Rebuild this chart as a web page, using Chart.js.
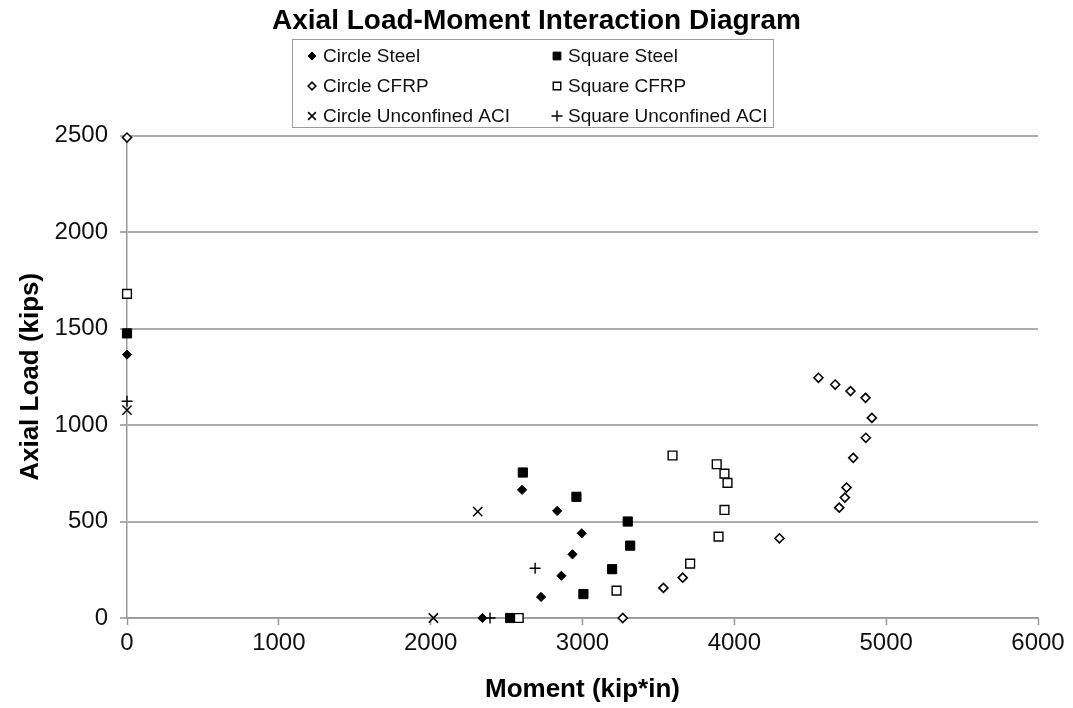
<!DOCTYPE html>
<html>
<head>
<meta charset="utf-8">
<title>Axial Load-Moment Interaction Diagram</title>
<script src="https://cdn.jsdelivr.net/npm/chart.js@4/dist/chart.umd.min.js"></script>
<style>
  html, body { margin: 0; padding: 0; background: #fff; }
  #wrap { width: 1073px; height: 708px; position: relative; }
</style>
</head>
<body>
<div id="wrap"><canvas id="pmChart" width="1073" height="708"></canvas></div>
<script>
// values: moment (kip*in) and axial load (kips)
var circleSteelM = [0, 2341, 2727, 2861, 2934, 2995, 2833, 2602];
var circleSteelP = [1365, 0, 109, 219, 330, 439, 555, 664];

var squareSteelM = [0, 2523, 3006, 3195, 3314, 3298, 2960, 2607];
var squareSteelP = [1475, 0, 124, 253, 375, 500, 628, 754];

var circleCfrpM = [0, 3265, 3533, 3660, 4297, 4691, 4728, 4739, 4783, 4866, 4906, 4864, 4765, 4664, 4554];
var circleCfrpP = [2490, 0, 156, 209, 413, 572, 624, 676, 830, 934, 1037, 1141, 1176, 1210, 1245];

var squareCfrpM = [0, 2580, 3224, 3709, 3896, 3935, 3955, 3935, 3884, 3593];
var squareCfrpP = [1680, 0, 142, 282, 422, 560, 700, 748, 797, 842];

var circleAciM = [0, 2018, 2310];
var circleAciP = [1077, 0, 551];

var squareAciM = [0, 2391, 2688];
var squareAciP = [1123, 0, 258];

var seriesNames = ['Circle Steel', 'Square Steel', 'Circle CFRP', 'Square CFRP', 'Circle Unconfined ACI', 'Square Unconfined ACI'];
var xTicks = [0, 1000, 2000, 3000, 4000, 5000, 6000];
var yTicks = [0, 500, 1000, 1500, 2000, 2500];

var FONT = "'Liberation Sans', Arial, sans-serif";

function pts(xs, ys) {
  return xs.map(function (x, i) { return { x: x, y: ys[i] }; });
}

function ds(label, xs, ys, style, radius, fill, bw, legR) {
  return {
    label: label,
    data: pts(xs, ys),
    showLine: false,
    pointStyle: style,
    pointRadius: radius,
    pointHoverRadius: radius,
    pointBackgroundColor: fill,
    pointBorderColor: '#000',
    pointBorderWidth: bw,
    legendRadius: legR,
    clip: false
  };
}

// legend: two columns, three rows, inside a framed box
var boxLegend = {
  id: 'boxLegend',
  afterDraw: function (chart) {
    var ctx = chart.ctx;
    var left = 292, top = 39, right = 773, bottom = 127;
    ctx.save();
    ctx.strokeStyle = '#9a9a9a';
    ctx.lineWidth = 1;
    ctx.strokeRect(left + 0.5, top + 0.5, right - left, bottom - top);
    ctx.font = '19px ' + FONT;
    ctx.textBaseline = 'middle';
    ctx.textAlign = 'left';
    chart.data.datasets.forEach(function (d, i) {
      var col = i % 2, row = Math.floor(i / 2);
      var mx = col ? 557 : 312;
      var y = 56 + row * 30;
      ctx.fillStyle = d.pointBackgroundColor;
      ctx.strokeStyle = '#000';
      ctx.lineWidth = d.pointBorderWidth;
      Chart.helpers.drawPoint(ctx, {
        pointStyle: d.pointStyle, rotation: 0,
        radius: d.legendRadius, borderWidth: d.pointBorderWidth
      }, mx, y);
      ctx.fillStyle = '#111';
      ctx.fillText(d.label, mx + 11, y + 1);
    });
    ctx.restore();
  }
};

function plainTick(v) { return String(v); }

var ctx = document.getElementById('pmChart').getContext('2d');
var chart = new Chart(ctx, {
  type: 'scatter',
  data: {
    datasets: [
      ds(seriesNames[0], circleSteelM, circleSteelP, 'rectRot', 4.6, '#000', 1, 4),
      ds(seriesNames[1], squareSteelM, squareSteelP, 'rect', 6.5, '#000', 1, 5.5),
      ds(seriesNames[2], circleCfrpM, circleCfrpP, 'rectRot', 4.5, '#fff', 1.6, 3.8),
      ds(seriesNames[3], squareCfrpM, squareCfrpP, 'rect', 6.2, '#fff', 1.4, 5.3),
      ds(seriesNames[4], circleAciM, circleAciP, 'crossRot', 6.5, '#000', 1.5, 5.5),
      ds(seriesNames[5], squareAciM, squareAciP, 'cross', 5.5, '#000', 1.4, 5.5)
    ]
  },
  options: {
    responsive: false,
    animation: false,
    events: [],
    layout: { padding: 0 },
    plugins: {
      legend: { display: false },
      tooltip: { enabled: false },
      title: {
        display: true,
        text: 'Axial Load-Moment Interaction Diagram',
        color: '#000',
        font: { family: FONT, size: 28, weight: 'bold' },
        padding: { top: 4, bottom: 98 }
      }
    },
    scales: {
      x: {
        type: 'linear',
        min: 0, max: 6000,
        afterBuildTicks: function (s) { s.ticks = xTicks.map(function (v) { return { value: v }; }); },
        afterFit: function (s) { s.height = 90; },
        grid: { drawOnChartArea: false, drawTicks: true, tickLength: 7, tickColor: '#999', tickWidth: 1.5 },
        border: { display: true, color: '#999', width: 1.5 },
        ticks: { color: '#111', padding: 4, maxRotation: 0, callback: plainTick, font: { family: FONT, size: 24 } },
        title: {
          display: true,
          text: 'Moment (kip*in)',
          color: '#000',
          font: { family: FONT, size: 26, weight: 'bold' },
          padding: { top: 0, bottom: 3 }
        }
      },
      y: {
        type: 'linear',
        min: 0, max: 2500,
        afterBuildTicks: function (s) { s.ticks = yTicks.map(function (v) { return { value: v }; }); },
        afterFit: function (s) { s.width = 127; },
        grid: { color: '#acacac', lineWidth: 2, drawTicks: true, tickLength: 7, tickColor: '#acacac' },
        border: { display: true, color: '#999', width: 1.5 },
        ticks: { color: '#111', padding: 12, callback: plainTick, font: { family: FONT, size: 24 } },
        title: {
          display: true,
          text: 'Axial Load (kips)',
          color: '#000',
          font: { family: FONT, size: 26, weight: 'bold' },
          padding: { top: 15, bottom: 0 }
        }
      },
      // empty right-hand strip so the plot ends where the reference does
      yRight: {
        type: 'linear',
        position: 'right',
        min: 0, max: 2500,
        afterFit: function (s) { s.width = 35; },
        grid: { display: false },
        border: { display: false },
        ticks: { display: false }
      }
    }
  },
  plugins: [boxLegend]
});
</script>
</body>
</html>
